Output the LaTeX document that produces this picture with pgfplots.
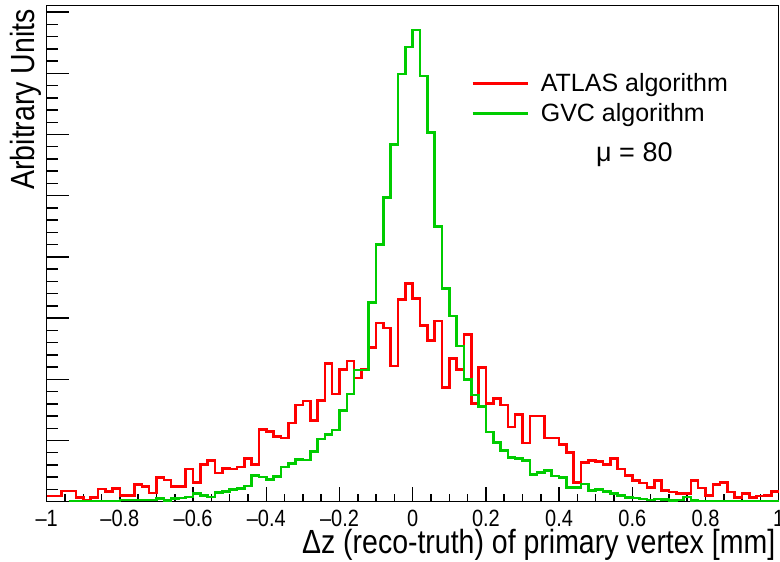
\documentclass[border=0pt]{standalone}
\usepackage{fontspec}
\setmainfont{Liberation Sans}
\newfontfamily\narrowfont[FakeStretch=0.85]{Liberation Sans}
\usepackage{pgfplots}
\usepackage{pgfplotstable}
\pgfplotsset{compat=1.18}
\definecolor{rootred}{RGB}{255,0,0}
\definecolor{rootgreen}{RGB}{0,204,0}

% bin left edges (width 0.02), heights in arbitrary units
\pgfplotstableread{
x atlas gvc
-1.00 5.7 0
-0.98 5.7 0
-0.96 10.7 0
-0.94 10.7 0.6
-0.92 4 0.6
-0.90 1.7 0.6
-0.88 4 0.6
-0.86 12.7 0.6
-0.84 10.3 0.6
-0.82 13 0.6
-0.80 6 1.8
-0.78 6 1.8
-0.76 17.3 1.8
-0.74 15 1.8
-0.72 8.7 1.8
-0.70 24 3.3
-0.68 21.7 1.5
-0.66 15 3.2
-0.64 15 3.8
-0.62 32.7 4.8
-0.60 19.3 8.2
-0.58 37.3 6.5
-0.56 41.3 4.8
-0.54 28.7 9.2
-0.52 33 10.5
-0.50 32.8 12.5
-0.48 34.8 13.2
-0.46 43.5 15.8
-0.44 37 26.5
-0.42 72.2 24.8
-0.40 70 22.2
-0.38 65.3 25.2
-0.36 63.5 34.8
-0.34 78.8 38.2
-0.32 96.5 42.2
-0.30 100.7 41.8
-0.28 81.2 50.3
-0.26 101.2 62.5
-0.24 138.2 67.2
-0.22 107.5 71.5
-0.20 132.3 91.2
-0.18 140.6 107.5
-0.16 123.6 131.5
-0.14 132.2 131.5
-0.12 154 199
-0.10 178.5 257
-0.08 173.5 304.2
-0.06 135.8 357.4
-0.04 202.4 427.5
-0.02 218.2 454.8
0.00 203 471.5
0.02 176 425.5
0.04 161 369
0.06 180.5 275.3
0.08 114.3 213.2
0.10 143.2 185.5
0.12 132 155.5
0.14 167 122.2
0.16 98.2 106.5
0.18 134 95
0.20 98.2 69.5
0.22 103.2 59.5
0.24 96.5 51
0.26 74.5 44.5
0.28 87.3 43
0.30 58.8 41.5
0.32 85.5 27.3
0.34 85.5 29.3
0.36 63.8 31
0.38 63.8 25.8
0.40 57 24
0.42 49 14.5
0.44 19 14.2
0.46 39.5 17.8
0.48 41.2 11
0.50 40 12.5
0.52 37.4 10
0.54 43.5 8.5
0.56 32.7 6.3
0.58 26 4.5
0.60 21 3.7
0.62 18.8 2.8
0.64 14.5 1.8
0.66 21.5 2.8
0.68 11.5 2.2
0.70 9.6 1.5
0.72 8.5 1.8
0.74 8.5 4.8
0.76 21 1.2
0.78 13.7 0.8
0.80 6.5 0.8
0.82 17 0.8
0.84 19.2 0.8
0.86 9.6 0.8
0.88 4.3 0.8
0.90 8.2 0.8
0.92 4.5 0.8
0.94 5.6 0.8
0.96 6 0.8
0.98 10.5 0.8
1.00 10.5 0.8
}\dzdata

\begin{document}
\begin{tikzpicture}
\useasboundingbox (-46.7bp,-60.3bp) rectangle (733.3bp,501.7bp);
\begin{axis}[
    scale only axis,
    width=732bp, height=496bp,
    at={(0,0)}, anchor=south west,
    xmin=-1, xmax=1, ymin=0, ymax=496,
    clip=false,
    axis line style={line width=1.5bp},
    tick style={line width=1.5bp, black},
    xtick pos=left, ytick pos=left,
    tick align=inside,
    major tick length=22bp, minor tick length=11bp,
    xtick style={/pgfplots/major tick length=15bp, /pgfplots/minor tick length=7.5bp},
    xtick={-1,-0.8,-0.6,-0.4,-0.2,0,0.2,0.4,0.6,0.8,1},
    xticklabels={–1,–0.8,–0.6,–0.4,–0.2,0,0.2,0.4,0.6,0.8,1},
    minor x tick num=3,
    ytick={0,61.2,122.4,183.6,244.8,306,367.2,428.4,489.6},
    yticklabels={},
    minor y tick num=4,
    xticklabel style={font=\narrowfont\fontsize{23.5bp}{28bp}\selectfont, anchor=base, yshift=-25bp},
    xlabel={Δz (reco-truth) of primary vertex [mm]},
    ylabel={Arbitrary Units},
    xlabel style={font=\narrowfont\fontsize{33.5bp}{40bp}\selectfont, at={(axis description cs:1,-0.1045)}, anchor=base east},
    ylabel style={font=\narrowfont\fontsize{33.5bp}{40bp}\selectfont, at={(axis description cs:-0.0169,1)}, anchor=base east},
    legend style={at={(rel axis cs:0.5797,0.863)}, anchor=north west, draw=none, fill=none,
        inner sep=0pt, row sep=10bp, font=\fontsize{25bp}{29bp}\selectfont,
        nodes={inner sep=0pt}},
    legend cell align=left,
    legend image code/.code={\draw[#1] (0bp,0bp) -- (55bp,0bp); \path (67bp,0bp);},
]
\addplot[const plot, rootred, line width=2.6bp, forget plot] table[x=x, y=atlas] {\dzdata};
\addplot[const plot, rootgreen, line width=2.6bp, forget plot, restrict x to domain=-0.941:1] table[x=x, y=gvc] {\dzdata};
\addlegendimage{rootred, line width=2.6bp}
\addlegendentry{ATLAS algorithm}
\addlegendimage{rootgreen, line width=2.6bp}
\addlegendentry{GVC algorithm}
\node[anchor=base west, inner sep=0pt, font=\fontsize{27bp}{32bp}\selectfont] at (rel axis cs:0.7504,0.6855) {μ = 80};
\end{axis}
\end{tikzpicture}
\end{document}
